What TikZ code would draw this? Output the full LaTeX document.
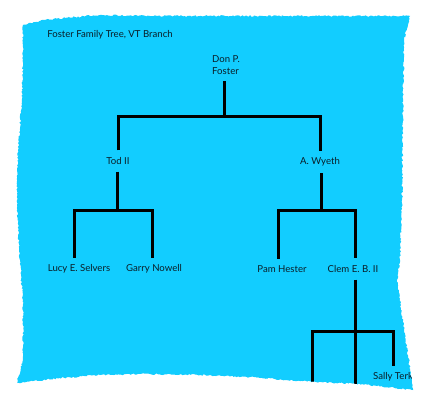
\documentclass[tikz,border=0pt]{standalone}
\usepackage{fontspec}
\setmainfont{Lato}
\usepackage{tikz}
\usetikzlibrary{positioning, calc, decorations.pathmorphing}
\definecolor{paperblue}{HTML}{12CDFF}
\definecolor{inkblack}{HTML}{0A1E28}

\begin{document}
\begin{tikzpicture}[x=1pt, y=-1pt,
    person/.style={font=\fontsize{9.6}{12}\selectfont, text=inkblack, inner sep=2pt, outer sep=5pt, align=left},
    branch/.style={line width=3pt, black},
    paper/.style={fill=paperblue, decorate, decoration={random steps, segment length=1.5pt, amplitude=.8pt}}]
    \pgfmathsetseed{7}
    \useasboundingbox (0,0) rectangle (428,404);
    % torn sheet
    \path[paper] (23,25) -- (45,20) -- (75,17) -- (100,15) -- (150,16) -- (200,16) -- (300,16) -- (410,16)
        -- (404,40) -- (403,100) -- (402,200) -- (400,260) -- (397,280) -- (405,335) -- (413,390)
        -- (360,384) -- (300,381) -- (250,377) -- (200,375) -- (150,374) -- (100,375) -- (60,378) -- (17,383)
        -- (23,360) -- (23,300) -- (19,250) -- (17,200) -- (18,150) -- (22,100) -- (23,60) -- cycle;
    \begin{scope}
    \clip (23,25) -- (45,20) -- (75,17) -- (100,15) -- (150,16) -- (200,16) -- (300,16) -- (410,16)
        -- (404,40) -- (403,100) -- (402,200) -- (400,260) -- (397,280) -- (405,335) -- (413,390)
        -- (360,384) -- (300,381) -- (250,377) -- (200,375) -- (150,374) -- (100,375) -- (60,378) -- (17,383)
        -- (23,360) -- (23,300) -- (19,250) -- (17,200) -- (18,150) -- (22,100) -- (23,60) -- cycle;

    % people
    \node[person] (title) at (110,35) {Foster Family Tree, VT Branch};
    \node[person] (don) at (226,65) {Don P.\\Foster};
    \node[person] (tod) at (118,161) {Tod II};
    \node[person] (wyeth) at (320,162) {A. Wyeth};
    \node[person] (lucy) at (79,269) {Lucy E. Selvers};
    \node[person] (garry) at (154,269) {Garry Nowell};
    \node[person] (pam) at (282,269) {Pam Hester};
    \node[person] (clem) at (353,269) {Clem E. B. II};
    \node[person] (sally) at (393,377) {Sally Terk};

    % bars
    \coordinate (j0) at (224,116);
    \coordinate (j1) at (117,210);
    \coordinate (j2) at (321,210);
    \coordinate (j3) at (355,331);
    \coordinate (c1) at (312,395);
    \coordinate (c2) at (355,395);

    \draw[branch] (j0 |- don.south) -- (j0);
    \draw[branch] (tod.north) -- (tod.north |- j0) -- (wyeth.north |- j0) -- (wyeth.north);

    \draw[branch] (j1 |- tod.south) -- (j1);
    \draw[branch] ([xshift=-5pt]lucy.north) -- ([xshift=-5pt]lucy.north |- j1) -- ([xshift=-2pt]garry.north |- j1) -- ([xshift=-2pt]garry.north);

    \draw[branch] (j2 |- wyeth.south) -- (j2);
    \draw[branch] ([xshift=-4pt]pam.north) -- ([xshift=-4pt]pam.north |- j2) -- ([xshift=2pt]clem.north |- j2) -- ([xshift=2pt]clem.north);

    \draw[branch] (j3 |- clem.south) -- (c2);
    \draw[branch] (c1) -- (c1 |- j3) -- (sally.north |- j3) -- (sally.north);
    \end{scope}
\end{tikzpicture}
\end{document}
